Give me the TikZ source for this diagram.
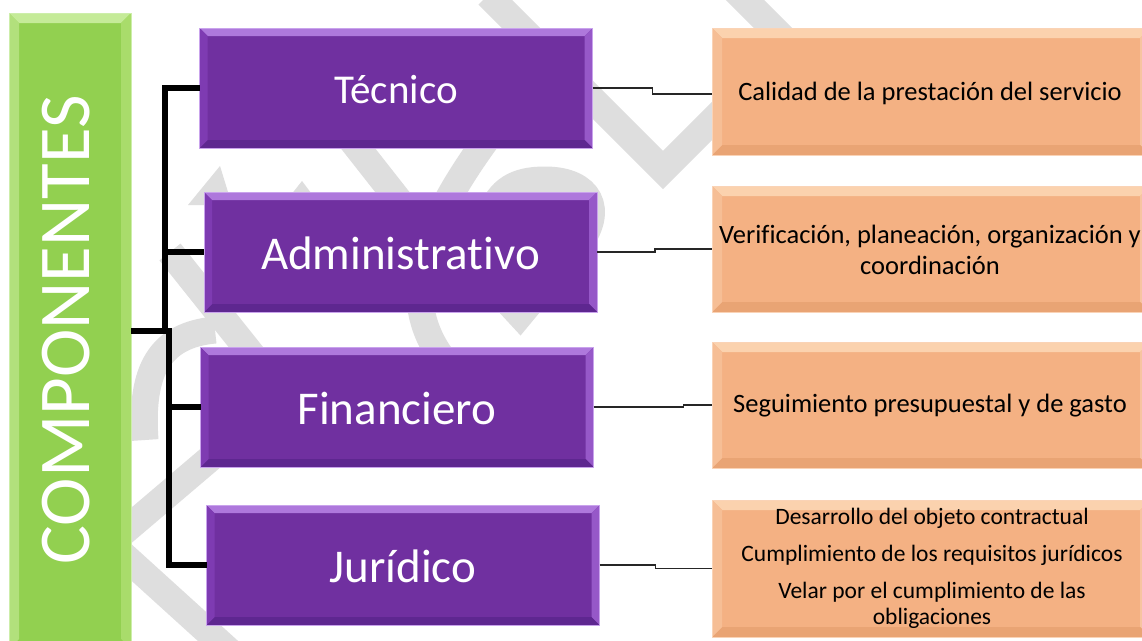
\documentclass[tikz,border=0pt]{standalone}
\usepackage{fontspec}
\setmainfont{Carlito}[Ligatures=NoCommon]
\definecolor{pbase}{HTML}{7030A0}
\definecolor{ptop}{HTML}{AE78DC}
\definecolor{pleft}{HTML}{7E3BB2}
\definecolor{pright}{HTML}{9658C8}
\definecolor{pbot}{HTML}{5E2790}
\definecolor{pedge}{HTML}{C9A3EC}
\definecolor{obase}{HTML}{F4B183}
\definecolor{otop}{HTML}{FBD2AE}
\definecolor{oleft}{HTML}{F6BE95}
\definecolor{oright}{HTML}{F7C4A0}
\definecolor{obot}{HTML}{E9A474}
\definecolor{oedge}{HTML}{FAD3B6}
\definecolor{gbase}{HTML}{92D050}
\definecolor{gtop}{HTML}{C5EB98}
\definecolor{gleft}{HTML}{B2E07C}
\definecolor{gright}{HTML}{A9DC6B}
\definecolor{gedge}{HTML}{CDEEAA}
\definecolor{wm}{HTML}{DEDEDE}
\newcommand{\bevelbox}[7]{%
  \fill[#3] (#1.north west) -- (#1.north east) -- ([shift={(-#2pt,-#2pt)}]#1.north east) -- ([shift={(#2pt,-#2pt)}]#1.north west) -- cycle;
  \fill[#4] (#1.north east) -- (#1.south east) -- ([shift={(-#2pt,#2pt)}]#1.south east) -- ([shift={(-#2pt,-#2pt)}]#1.north east) -- cycle;
  \fill[#5] (#1.south east) -- (#1.south west) -- ([shift={(#2pt,#2pt)}]#1.south west) -- ([shift={(-#2pt,#2pt)}]#1.south east) -- cycle;
  \fill[#6] (#1.south west) -- (#1.north west) -- ([shift={(#2pt,-#2pt)}]#1.north west) -- ([shift={(#2pt,#2pt)}]#1.south west) -- cycle;
  \draw[#7, line width=0.8pt] (#1.north west) rectangle (#1.south east);
}
\begin{document}
\begin{tikzpicture}[x=1pt,y=-1pt,
  wmline/.style={draw=wm, line width=27pt},
  gbox/.style={fill=gbase, draw=gedge, outer sep=0pt, inner sep=0pt},
  pbox/.style={fill=pbase, draw=pedge, outer sep=0pt, inner sep=0pt, minimum height=120pt},
  obox/.style={fill=obase, draw=oedge, outer sep=0pt, inner sep=0pt, minimum width=438pt},
  ptext/.style={text=white, font=\fontsize{47}{56}\selectfont},
  otext/.style={text=black, align=center, font=\fontsize{26.5}{31}\selectfont},
  bus/.style={line width=6pt, black},
  conn/.style={line width=1.3pt, black!85}]
\useasboundingbox (0,0) rectangle (1142,640);
\clip (0,0) rectangle (1142,640);
\fill[white] (0,0) rectangle (1142,640);

% watermark
\draw[wmline] (488,-5) -- (663,170) -- (765,68);
\draw[wmline] (735,-10) -- (805,60);
\draw[wmline] (320,100) -- (430,240);
\draw[wmline] (495,128) .. controls (430,215) and (395,290) .. (440,355) -- (475,400);
\draw[wmline] (490,215) .. controls (500,190) and (515,180) .. (545,180) .. controls (590,180) and (605,210) .. (578,245) -- (520,315) -- (460,250);
\fill[wm] (220,166) -- (188,205) -- (232,205) -- cycle;
\fill[wm] (302,181) -- (283,205) -- (320,205) -- cycle;
\draw[wmline] (170,252) -- (300,415);
\draw[wmline] (215,330) .. controls (160,335) and (140,370) .. (145,440);
\draw[wmline] (240,433) -- (120,535);
\draw[wmline] (110,543) -- (250,670);

% left box
\node[gbox, minimum width=122pt, minimum height=636pt] (g) at (70,331) {};
\bevelbox{g}{10}{gtop}{gright}{gbase}{gleft}{gedge}
\node[text=white, rotate=90, font=\fontsize{73}{80}\selectfont] (gt) at (66.5,330) {COMPONENTES};

% purple boxes
\node[pbox, minimum width=393pt] (t1) at (396,88) {};
\node[pbox, minimum width=393pt] (t2) at (400.5,252) {};
\node[pbox, minimum width=393pt] (t3) at (397,407) {};
\node[pbox, minimum width=393pt] (t4) at (403,565) {};
\bevelbox{t1}{8}{ptop}{pright}{pbot}{pleft}{pedge}
\bevelbox{t2}{8}{ptop}{pright}{pbot}{pleft}{pedge}
\bevelbox{t3}{8}{ptop}{pright}{pbot}{pleft}{pedge}
\bevelbox{t4}{8}{ptop}{pright}{pbot}{pleft}{pedge}
\node[ptext, font=\fontsize{41}{49}\selectfont] at ([yshift=-2pt]t1.center) {Técnico};
\node[ptext] at ([yshift=-1pt]t2.center) {Administrativo};
\node[ptext] at ([yshift=-1pt]t3.center) {Financiero};
\node[ptext] at ([yshift=-1pt]t4.center) {Jurídico};

% orange boxes
\node[obox, minimum height=127pt] (o1) at (931,91.5) {};
\node[obox, minimum height=126pt] (o2) at (931,249) {};
\node[obox, minimum height=126pt] (o3) at (931,405) {};
\node[obox, minimum height=137pt] (o4) at (931,568.5) {};
\bevelbox{o1}{10}{otop}{oright}{obot}{oleft}{oedge}
\bevelbox{o2}{10}{otop}{oright}{obot}{oleft}{oedge}
\bevelbox{o3}{10}{otop}{oright}{obot}{oleft}{oedge}
\bevelbox{o4}{10}{otop}{oright}{obot}{oleft}{oedge}
\node[otext] at (930,93) {Calidad de la prestación del servicio};
\node[otext] at (930,249.5) {Verificación, planeación, organización y\\coordinación};
\node[otext] at (930,406) {Seguimiento presupuestal y de gasto};
\node[otext, font=\fontsize{23.5}{26}\selectfont] at (932,568.5) {Desarrollo del objeto contractual\\[11pt]Cumplimiento de los requisitos jurídicos\\[11pt]Velar por el cumplimiento de las\\obligaciones};

% bus connectors
\coordinate (ja) at (164.5,331);
\coordinate (jb) at (168.5,331);
\draw[bus] (g.east) -- (ja) |- (t1.west);
\draw[bus] (g.east) -- (ja) |- (t2.west);
\draw[bus] (g.east) -- (jb) |- (t3.west);
\draw[bus] (g.east) -- (jb) |- (t4.west);

% thin connectors
\draw[conn] (t1.east) -- ++(60,0) |- ([yshift=-2.5pt]o1.west);
\draw[conn] (t2.east) -- ++(58,0) |- (o2.west);
\draw[conn] (t3.east) -- ++(90,0) |- (o3.west);
\draw[conn] (t4.east) -- ++(56,0) |- (o4.west);
\end{tikzpicture}
\end{document}
